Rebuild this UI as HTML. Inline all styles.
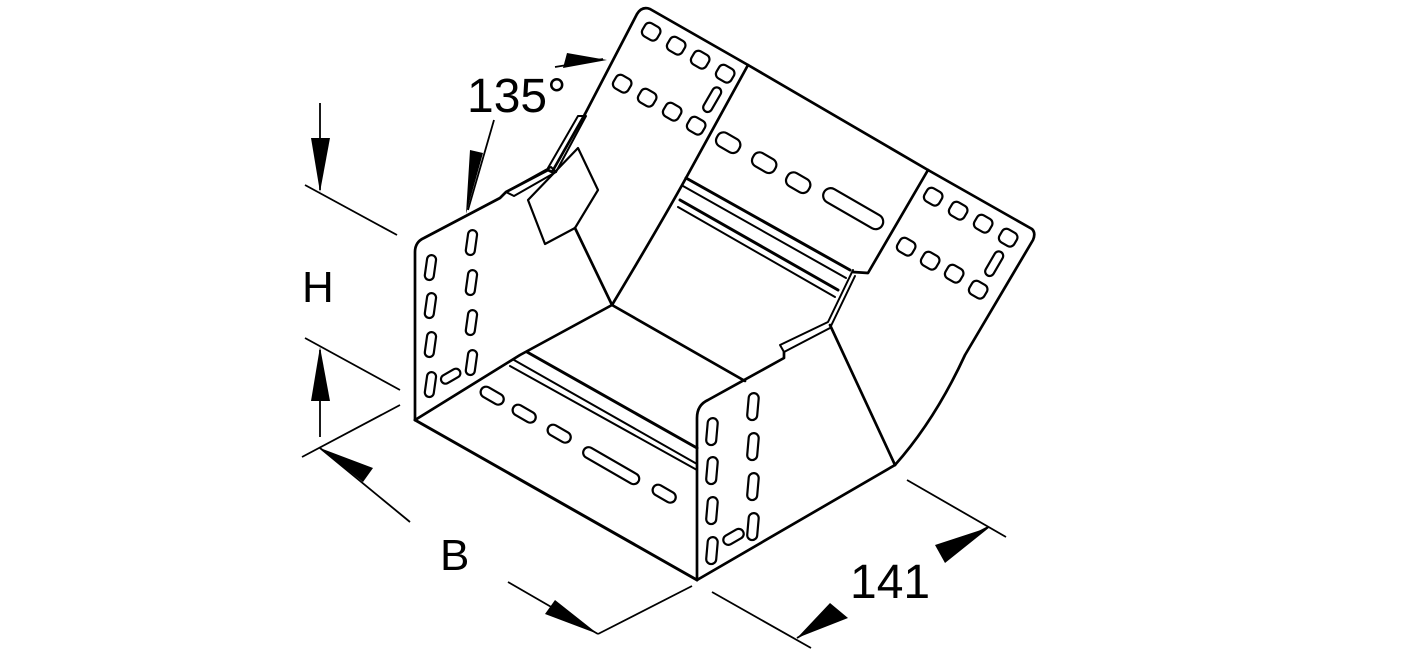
<!DOCTYPE html>
<html><head><meta charset="utf-8"><style>
html,body{margin:0;padding:0;background:#fff;}
svg{display:block;}
text{font-family:"Liberation Sans",sans-serif;fill:#000;}
</style></head><body>
<svg width="1417" height="657" viewBox="0 0 1417 657" xmlns="http://www.w3.org/2000/svg">
<g fill="none" stroke="#000" stroke-width="2.7" stroke-linejoin="round" stroke-linecap="round">
<!-- left plate -->
<path d="M415,420 L415,252 Q415,242 424,238 L500,198 L506,192 L548,170 L552,172 L585,114"/>
<path d="M506,192 L514,196 L556,172 L551,167 Z" stroke-width="2"/>
<path d="M548,168 L578,116 L586,116 L556,172" stroke-width="2"/>
<!-- top plate -->
<path d="M585,114 L637,14 Q642,6 650,9 L748,65 L686,178 Q660,225 612,305"/>
<!-- gusset -->
<path d="M528,200 L578,148 L598,190 L575,228 L545,244 Z" stroke-width="2.2"/>
<path d="M575,228 L612,305"/>
<!-- middle top edge -->
<path d="M748,65 L928,170"/>
<!-- upper right plate -->
<path d="M928,170 L1032,229 Q1036,233 1033,240 L965,355 Q935,420 895,465"/>
<path d="M928,170 L868,273 L853,272"/>
<!-- rails upper -->
<path d="M686,178 L850,270" stroke-width="3"/>
<path d="M683,186 L846,278" stroke-width="2"/>
<path d="M680,200 L838,290" stroke-width="3"/>
<path d="M678,207 L835,297" stroke-width="2"/>
<!-- right flange -->
<path d="M853,270 L828,322 L780,345 L784,352 L830,328 L855,276" stroke-width="2"/>
<path d="M830,325 L895,465"/>
<!-- right front plate -->
<path d="M784,352 L784,358 L708,400 Q697,405 697,418 L697,580 L895,465"/>
<!-- floor -->
<path d="M612,305 L520,355 L415,420"/>
<path d="M612,305 L745,381"/>
<path d="M415,420 L697,580" stroke-width="3"/>
<path d="M527,352 L697,448" stroke-width="3"/>
<path d="M514,360 L697,464" stroke-width="2"/>
<path d="M510,366 L697,470" stroke-width="2"/>
<!-- holes left plate -->
<g stroke-width="2.2">
<rect x="426" y="255" width="9" height="25" rx="4.5" transform="rotate(8 430 267)"/>
<rect x="426" y="293" width="9" height="25" rx="4.5" transform="rotate(8 430 305)"/>
<rect x="426" y="332" width="9" height="25" rx="4.5" transform="rotate(8 430 344)"/>
<rect x="426" y="372" width="9" height="25" rx="4.5" transform="rotate(8 430 384)"/>
<rect x="467" y="230" width="9" height="25" rx="4.5" transform="rotate(8 471 242)"/>
<rect x="467" y="270" width="9" height="25" rx="4.5" transform="rotate(8 471 282)"/>
<rect x="467" y="310" width="9" height="25" rx="4.5" transform="rotate(8 471 322)"/>
<rect x="467" y="350" width="9" height="25" rx="4.5" transform="rotate(8 471 362)"/>
<rect x="440" y="372" width="21" height="9" rx="4.5" transform="rotate(-30 450 376)"/>
<!-- floor holes -->
<rect x="480" y="390" width="25" height="11" rx="5.5" transform="rotate(30 492 395)"/>
<rect x="512" y="408" width="25" height="11" rx="5.5" transform="rotate(30 524 413)"/>
<rect x="547" y="428" width="25" height="11" rx="5.5" transform="rotate(30 559 433)"/>
<rect x="580" y="460" width="63" height="11" rx="5.5" transform="rotate(30 611 465)"/>
<rect x="652" y="488" width="25" height="11" rx="5.5" transform="rotate(30 664 493)"/>
<!-- right front plate holes -->
<rect x="707" y="418" width="10" height="27" rx="5" transform="rotate(5 711 431)"/>
<rect x="707" y="457" width="10" height="27" rx="5" transform="rotate(5 711 470)"/>
<rect x="707" y="497" width="10" height="27" rx="5" transform="rotate(5 711 510)"/>
<rect x="707" y="537" width="10" height="27" rx="5" transform="rotate(5 711 550)"/>
<rect x="748" y="393" width="10" height="27" rx="5" transform="rotate(5 752 406)"/>
<rect x="748" y="433" width="10" height="27" rx="5" transform="rotate(5 752 446)"/>
<rect x="748" y="473" width="10" height="27" rx="5" transform="rotate(5 752 486)"/>
<rect x="748" y="513" width="10" height="27" rx="5" transform="rotate(5 752 526)"/>
<rect x="722" y="532" width="22" height="10" rx="5" transform="rotate(-30 733 536)"/>
<!-- top plate holes -->
<rect x="643" y="24" width="17" height="15" rx="5" transform="rotate(30 651 31)"/>
<rect x="668" y="38" width="17" height="15" rx="5" transform="rotate(30 676 45)"/>
<rect x="692" y="52" width="17" height="15" rx="5" transform="rotate(30 700 59)"/>
<rect x="717" y="66" width="17" height="15" rx="5" transform="rotate(30 725 73)"/>
<rect x="614" y="76" width="17" height="15" rx="5" transform="rotate(30 622 83)"/>
<rect x="639" y="90" width="17" height="15" rx="5" transform="rotate(30 647 97)"/>
<rect x="664" y="104" width="17" height="15" rx="5" transform="rotate(30 672 111)"/>
<rect x="688" y="118" width="17" height="15" rx="5" transform="rotate(30 696 125)"/>
<rect x="708" y="86" width="9" height="27" rx="4.5" transform="rotate(30 712 99)"/>
<!-- middle holes -->
<rect x="716" y="135" width="25" height="15" rx="6.5" transform="rotate(30 728 142)"/>
<rect x="752" y="155" width="25" height="15" rx="6.5" transform="rotate(30 764 162)"/>
<rect x="786" y="175" width="25" height="15" rx="6.5" transform="rotate(30 798 182)"/>
<rect x="820" y="201" width="67" height="15" rx="7.5" transform="rotate(30 853 208)"/>
<!-- right plate holes -->
<rect x="925" y="189" width="17" height="15" rx="5" transform="rotate(30 933 196)"/>
<rect x="950" y="203" width="17" height="15" rx="5" transform="rotate(30 958 210)"/>
<rect x="975" y="216" width="17" height="15" rx="5" transform="rotate(30 983 223)"/>
<rect x="1000" y="230" width="17" height="15" rx="5" transform="rotate(30 1008 237)"/>
<rect x="898" y="239" width="17" height="15" rx="5" transform="rotate(30 906 246)"/>
<rect x="922" y="253" width="17" height="15" rx="5" transform="rotate(30 930 260)"/>
<rect x="946" y="266" width="17" height="15" rx="5" transform="rotate(30 954 273)"/>
<rect x="970" y="282" width="17" height="15" rx="5" transform="rotate(30 978 289)"/>
<rect x="990" y="250" width="9" height="27" rx="4.5" transform="rotate(30 994 263)"/>
</g>
</g>
<!-- dimension lines -->
<g stroke="#000" stroke-width="1.8" fill="none">
<line x1="305" y1="185" x2="397" y2="235"/>
<line x1="305" y1="338" x2="400" y2="390"/>
<line x1="320" y1="103" x2="320" y2="190"/>
<line x1="320" y1="350" x2="320" y2="437"/>
<line x1="302" y1="457" x2="400" y2="405"/>
<line x1="320" y1="448" x2="410" y2="522"/>
<line x1="508" y1="582" x2="598" y2="634"/>
<line x1="598" y1="634" x2="692" y2="586"/>
<line x1="907" y1="480" x2="1006" y2="537"/>
<line x1="712" y1="592" x2="811" y2="648"/>
<line x1="988" y1="527" x2="940" y2="552"/>
<line x1="797" y1="638" x2="840" y2="612"/>
<line x1="555" y1="67" x2="603" y2="59"/>
<line x1="494" y1="120" x2="468" y2="210"/>
</g>
<g fill="#000" stroke="none">
<polygon points="320,192 311,138 330,138"/>
<polygon points="320,347 311,401 330,401"/>
<polygon points="320,448 373,468 363,482"/>
<polygon points="598,634 545,614 555,600"/>
<polygon points="990,527 945,563 935,545"/>
<polygon points="797,638 848,618 830,603"/>
<polygon points="607,60 567,53 563,68"/>
<polygon points="466,214 470,150 483,153"/>
</g>
<text x="302" y="302" font-size="44">H</text>
<text x="440" y="570" font-size="44">B</text>
<text x="850" y="598" font-size="48">141</text>
<text x="467" y="112" font-size="48">135°</text>
</svg>
</body></html>
